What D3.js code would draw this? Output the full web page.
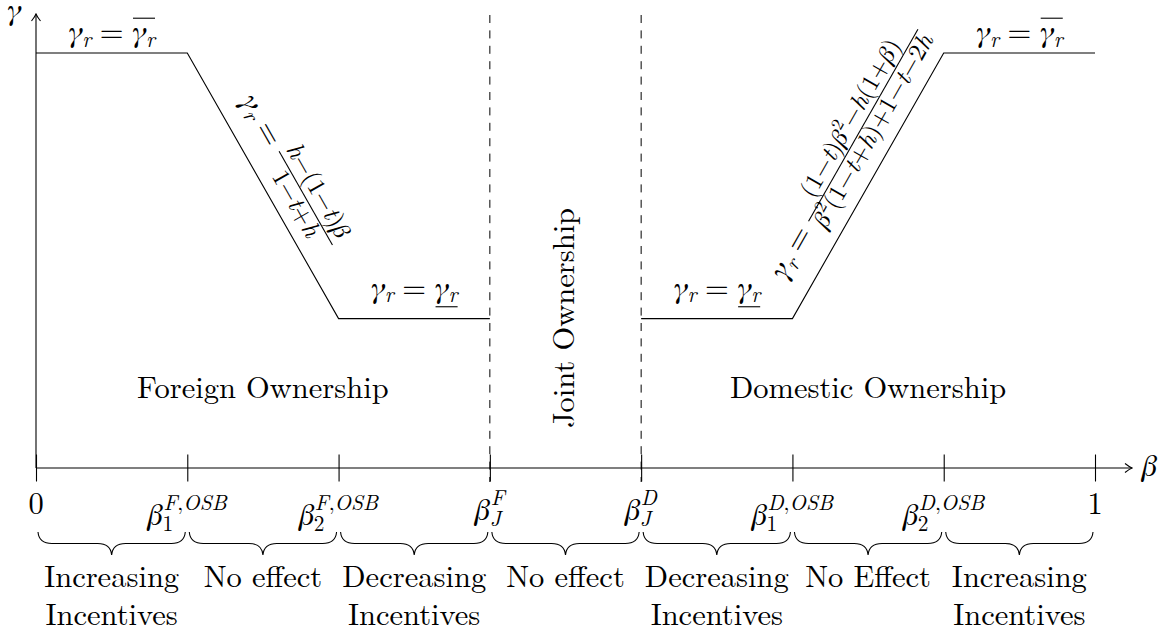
<!DOCTYPE html>
<html>
<head>
<meta charset="utf-8">
<script src="https://cdn.jsdelivr.net/npm/d3@7"></script>
<style>
  body { margin: 0; background: #fff; }
</style>
</head>
<body>
<svg id="chart" width="1172" height="635"></svg>
<script>
// ---- data ----
const tickIds = ['0', 'b1F', 'b2F', 'bJF', 'bJD', 'b1D', 'b2D', '1'];
const tickTex = ['0', 'β_1^{F,OSB}', 'β_2^{F,OSB}', 'β_J^F', 'β_J^D', 'β_1^{D,OSB}', 'β_2^{D,OSB}', '1'];
const dashedAt = ['bJF', 'bJD'];
const gammaLow = 0.36, gammaHigh = 1;
const foreignPts = [['0', gammaHigh], ['b1F', gammaHigh], ['b2F', gammaLow], ['bJF', gammaLow]];
const domesticPts = [['bJD', gammaLow], ['b1D', gammaLow], ['b2D', gammaHigh], ['1', gammaHigh]];
const effectLabels = [['Increasing', 'Incentives'], ['No effect'], ['Decreasing', 'Incentives'], ['No effect'],
  ['Decreasing', 'Incentives'], ['No Effect'], ['Increasing', 'Incentives']];
const fracForeign = ['h−(1−t)β', '1−t+h'];
const fracDomestic = ['(1−t)β^2−h(1+β)', 'β^2(1−t+h)+1−t−2h'];

const FONT = '"Latin Modern Roman", "FreeSerif", "Liberation Serif", serif';
const FS = 30.5;
const svg = d3.select('#chart');

const x = d3.scalePoint().domain(tickIds).range([36, 1095]);
const y = d3.scaleLinear().domain([0, 1]).range([468, 53]);
const y0 = y(0);

const T = (parent, size) => parent.append('text').style('font-family', FONT)
  .style('font-size', size + 'px').attr('fill', '#000');

// arrow head like tikz "->"
svg.append('defs').append('marker')
  .attr('id', 'arr').attr('markerUnits', 'userSpaceOnUse')
  .attr('viewBox', '-9 -6 10 12').attr('refX', 0).attr('refY', 0)
  .attr('markerWidth', 10).attr('markerHeight', 12).attr('orient', 'auto')
  .append('path').attr('d', 'M-7,-4.5 Q-2.5,-1 0,0 Q-2.5,1 -7,4.5')
  .attr('fill', 'none').attr('stroke', '#000').attr('stroke-width', 1.1);

// ---- tiny tex-ish layout ----
function parseTex(s) {
  const atoms = []; let i = 0;
  const grab = () => {
    if (s[i] === '{') { const j = s.indexOf('}', i); const r = s.slice(i + 1, j); i = j + 1; return r; }
    return s[i++];
  };
  while (i < s.length) {
    const c = s[i++];
    if (c === '_') atoms[atoms.length - 1].sub = grab();
    else if (c === '^') atoms[atoms.length - 1].sup = grab();
    else atoms.push({ base: c });
  }
  return atoms;
}
const isItalic = c => /[A-Za-z\u03b1-\u03c9]/.test(c);

function texRun(g, s, px, py, size, script) {
  parseTex(s).forEach(a => {
    const rel = a.base === '=', bin = a.base === '−' || a.base === '+';
    const sp = script ? 0 : (rel ? 0.278 : bin ? 0.222 : 0) * size;
    px += sp;
    const t = T(g, size).attr('x', px).attr('y', py)
      .style('font-style', isItalic(a.base) ? 'italic' : 'normal').text(a.base);
    px += t.node().getComputedTextLength();
    if (a.sub || a.sup) {
      const both = a.sub && a.sup;
      let w = 0;
      if (a.sup) w = Math.max(w, texRun(g, a.sup, px, py - size * (both ? 0.5 : 0.42), size * 0.7, true) - px);
      if (a.sub) w = Math.max(w, texRun(g, a.sub, px + (both ? -1 : 0), py + size * (both ? 0.2 : 0.16), size * 0.7, true) - px);
      px += w;
    }
    px += sp;
  });
  return px;
}

function texFrac(g, num, den, px, py, size) {
  const fs = size * 0.82;
  const ng = g.append('g'), dg = g.append('g');
  const wn = texRun(ng, num, 0, 0, fs, true), wd = texRun(dg, den, 0, 0, fs, true);
  const w = Math.max(wn, wd) + 0.1 * size;
  const bar = py - 0.3 * size;
  ng.attr('transform', `translate(${px + (w - wn) / 2},${bar - 0.22 * size})`);
  dg.attr('transform', `translate(${px + (w - wd) / 2},${bar + 0.63 * size})`);
  g.append('line').attr('x1', px).attr('x2', px + w).attr('y1', bar).attr('y2', bar)
    .attr('stroke', '#000').attr('stroke-width', 1.1);
  return px + w;
}

// "γr = γr" with overline / underline on the second one
function levelLabel(cx, base, mark) {
  const g = svg.append('g');
  let px = texRun(g, 'γ_r=', 0, 0, FS, false);
  const start = px;
  px = texRun(g, 'γ_r', px, 0, FS, false);
  const ly = mark === 'over' ? -0.78 * FS : 0.3 * FS;
  g.append('line').attr('x1', start + 1).attr('x2', px).attr('y1', ly).attr('y2', ly)
    .attr('stroke', '#000').attr('stroke-width', 1.1);
  g.attr('transform', `translate(${cx - px / 2},${base})`);
}

// formula written along a sloped segment
function slopedFormula(p0, p1, frac, along, perp) {
  const dx = p1[0] - p0[0], dy = p1[1] - p0[1];
  const L = Math.hypot(dx, dy), ang = Math.atan2(dy, dx) * 180 / Math.PI;
  const g = svg.append('g').attr('transform', `translate(${p0[0]},${p0[1]}) rotate(${ang})`);
  const f = g.append('g');
  let px = texRun(f, 'γ_r=', 0, 0, FS, false);
  px = texFrac(f, frac[0], frac[1], px, 0, FS);
  f.attr('transform', `translate(${along * L - px / 2},${-perp})`);
}

// ---- lines ----
const line = d3.line().x(d => x(d[0])).y(d => y(d[1]));
const stroke = sel => sel.attr('fill', 'none').attr('stroke', '#000').attr('stroke-width', 1.1);

svg.append('path').attr('d', line(foreignPts)).call(stroke);
svg.append('path').attr('d', line(domesticPts)).call(stroke);

svg.selectAll('.dash').data(dashedAt).join('line')
  .attr('x1', d => x(d)).attr('x2', d => x(d)).attr('y1', 15).attr('y2', y0 + 14)
  .attr('stroke', '#000').attr('stroke-width', 1).attr('stroke-dasharray', '8,7.4');

// axes
svg.append('line').attr('x1', x('0')).attr('x2', 1132).attr('y1', y0).attr('y2', y0)
  .call(stroke).attr('marker-end', 'url(#arr)');
svg.append('line').attr('x1', x('0')).attr('x2', x('0')).attr('y1', y0).attr('y2', 14)
  .call(stroke).attr('marker-end', 'url(#arr)');

const axisG = svg.append('g').attr('transform', `translate(0,${y0})`)
  .call(d3.axisBottom(x).tickSize(0).tickFormat(''));
axisG.select('.domain').remove();
axisG.selectAll('.tick line').attr('y1', -13.5).attr('y2', 13.5)
  .attr('stroke', '#000').attr('stroke-width', 1.1);

T(svg, FS).attr('x', 1142).attr('y', 476).style('font-style', 'italic').text('β');
T(svg, FS).attr('x', 14).attr('y', 20).style('font-style', 'italic').attr('text-anchor', 'middle').text('γ');

// tick labels
tickIds.forEach((id, i) => {
  const g = svg.append('g');
  const plain = !tickTex[i].includes('β');
  const w = texRun(g, tickTex[i], 0, 0, FS, false);
  const base = plain ? 514 : (tickTex[i].includes('J') ? 520 : 525);
  g.attr('transform', `translate(${x(id) - w / 2},${base})`);
});

// braces between consecutive ticks
const segs = d3.pairs(tickIds);
const braceTop = 532, braceH = 23;
function bracePath(a, b) {
  const p = d3.path(), m = (a + b) / 2, q = braceH / 2, r = 14;
  p.moveTo(a, braceTop);
  p.quadraticCurveTo(a + 1, braceTop + q, a + r, braceTop + q);
  p.lineTo(m - r, braceTop + q);
  p.quadraticCurveTo(m - 1, braceTop + q, m, braceTop + braceH);
  p.quadraticCurveTo(m + 1, braceTop + q, m + r, braceTop + q);
  p.lineTo(b - r, braceTop + q);
  p.quadraticCurveTo(b - 1, braceTop + q, b, braceTop);
  return p.toString();
}
svg.selectAll('.brace').data(segs).join('path')
  .attr('d', d => bracePath(x(d[0]) + 2, x(d[1]) - 2)).call(stroke);

segs.forEach((d, i) => {
  const t = T(svg, FS).attr('text-anchor', 'middle')
    .attr('transform', `translate(${(x(d[0]) + x(d[1])) / 2},0)`);
  t.selectAll('tspan').data(effectLabels[i]).join('tspan')
    .attr('x', 0).attr('y', (s, j) => 587 + j * 38).text(s => s);
});

// level labels
levelLabel((x('0') + x('b1F')) / 2, y(gammaHigh) - 11, 'over');
levelLabel((x('b2D') + x('1')) / 2, y(gammaHigh) - 11, 'over');
levelLabel((x('b2F') + x('bJF')) / 2, y(gammaLow) - 21, 'under');
levelLabel((x('bJD') + x('b1D')) / 2, y(gammaLow) - 21, 'under');

// sloped formulas
slopedFormula([x('b1F'), y(gammaHigh)], [x('b2F'), y(gammaLow)], fracForeign, 0.5, 22);
slopedFormula([x('b1D'), y(gammaLow)], [x('b2D'), y(gammaHigh)], fracDomestic, 0.56, 25);

// region names
T(svg, FS).attr('x', (x('b1F') + x('b2F')) / 2).attr('y', 398)
  .attr('text-anchor', 'middle').text('Foreign Ownership');
T(svg, FS).attr('x', (x('b1D') + x('b2D')) / 2).attr('y', 398)
  .attr('text-anchor', 'middle').text('Domestic Ownership');
T(svg, FS).attr('transform', `translate(${(x('bJF') + x('bJD')) / 2 + 8},318) rotate(-90)`)
  .attr('text-anchor', 'middle').text('Joint Ownership');
</script>
</body>
</html>
